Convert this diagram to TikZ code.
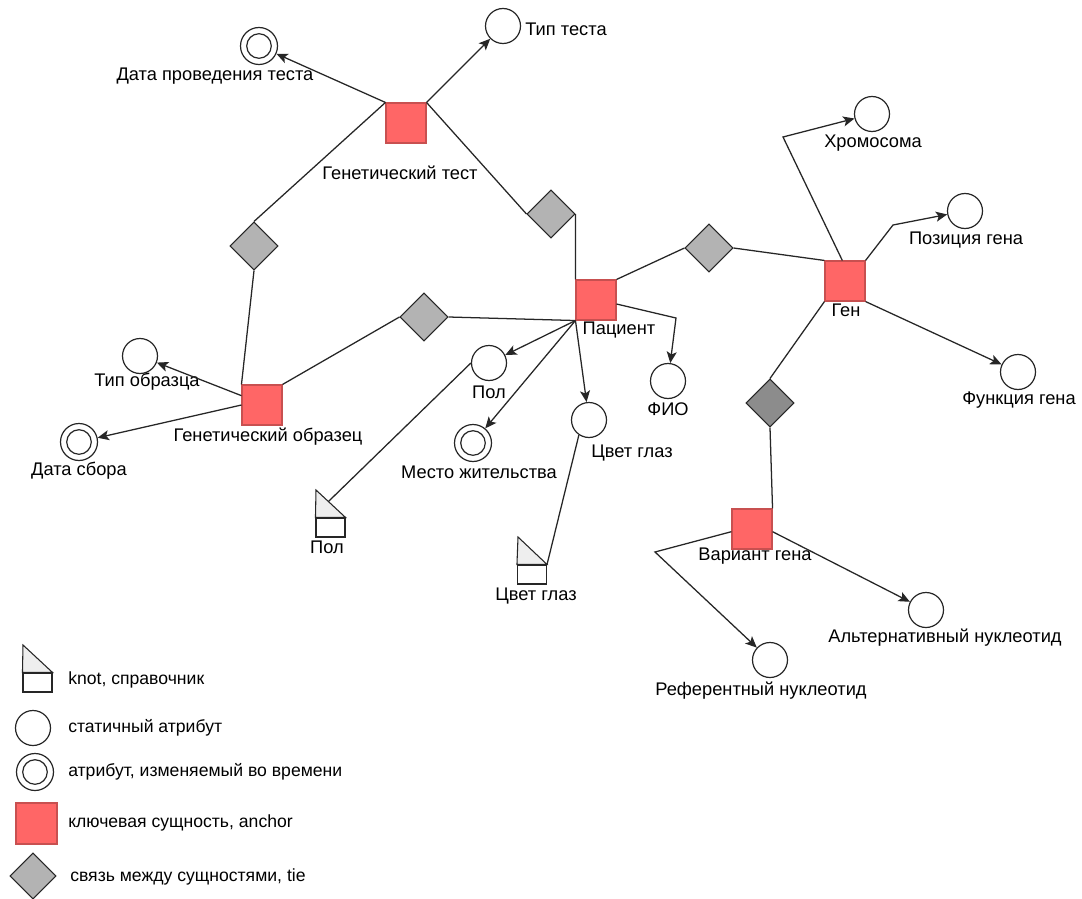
\documentclass[tikz,border=0pt]{standalone}
\usepackage{fontspec}
\setmainfont{Liberation Sans}
\usetikzlibrary{shapes.geometric,arrows.meta,calc}
\definecolor{ancfill}{HTML}{FF6666}
\definecolor{ancdraw}{HTML}{C85050}
\definecolor{tiefill}{HTML}{B3B3B3}
\definecolor{tiedark}{HTML}{8C8C8C}
\definecolor{knotfill}{HTML}{EEEEEE}
\definecolor{ln}{HTML}{262626}
\begin{document}
\begin{tikzpicture}[x=0.75pt,y=-0.75pt,
  every node/.style={font=\fontsize{13.7}{16}\selectfont},
  lbl/.style={inner sep=0pt, text=black},
  leg/.style={lbl, anchor=west, font=\fontsize{13.2}{16}\selectfont},
  anc/.style={rectangle, fill=ancfill, draw=ancdraw, line width=0.8pt, minimum size=30pt, inner sep=0},
  attr/.style={circle, draw=ln, fill=white, line width=0.9pt, minimum size=26.25pt, inner sep=0},
  tattr/.style={circle, draw=ln, fill=white, line width=0.9pt, minimum size=27.75pt, inner sep=0,
    path picture={\draw[ln, line width=0.9pt] (path picture bounding box.center) circle[radius=9.2pt];}},
  tie/.style={diamond, aspect=1, draw=ln, fill=tiefill, line width=0.8pt, minimum size=36pt, inner sep=0},
  knotbox/.style={rectangle, draw=ln, fill=white, line width=0.8pt, minimum width=21.75pt, minimum height=14.25pt, inner sep=0},
  knottri/.style={draw=ln, fill=knotfill, line width=0.8pt, line join=miter},
  conn/.style={draw=ln, line width=0.95pt},
  arr/.style={conn, -{Stealth[length=8.5pt,width=7.5pt,inset=2pt]}}
]
\useasboundingbox (0,0) rectangle (1082,899);
\fill[white] (0,0) rectangle (1082,899);

% ---------- nodes ----------
\node[anc] (gt) at (406,123) {};
\node[tattr] (dpt) at (259,46) {};
\node[attr] (tt) at (503,26) {};
\node[tie] (tieL) at (254,246) {};
\node[tie] (tieR) at (551,214) {};
\node[anc] (pat) at (596,300) {};
\node[tie] (tieM) at (709,248) {};
\node[anc] (gen) at (845,281) {};
\node[attr] (chr) at (872,114) {};
\node[attr] (posg) at (965,211) {};
\node[attr] (func) at (1018,372) {};
\node[tie, fill=tiedark] (tieD) at (770,403) {};
\node[anc] (var) at (752,529) {};
\node[attr] (alt) at (926,610) {};
\node[attr] (ref) at (770,660) {};
\node[tie] (tieP) at (424,317) {};
\node[anc] (obr) at (262,405) {};
\node[attr] (tob) at (140,356) {};
\node[tattr] (dsb) at (79,442) {};
\node[attr] (pol) at (489,363) {};
\node[tattr] (mzh) at (473,443) {};
\node[attr] (cg) at (589,420) {};
\node[attr] (fio) at (668,381) {};
\node[knotbox] (kpol) at (330.5,527.5) {};
\coordinate (kpolt) at (316,490);
\draw[knottri] (kpolt) -- (kpol.north east) -- (kpol.north west) -- cycle;
\node[knotbox] (kcg) at (532,574.5) {};
\coordinate (kcgt) at (518,537);
\draw[knottri] (kcgt) -- (kcg.north east) -- (kcg.north west) -- cycle;

% ---------- labels ----------
\node[lbl] (l_dpt) at (215,76) {Дата проведения теста};
\node[lbl] (l_tt) at (566,29) {Тип теста};
\node[lbl] (l_gt) at (400,173) {Генетический тест};
\node[lbl] (l_pat) at (619,330) {Пациент};
\node[lbl] (l_gen) at (846,310) {Ген};
\node[lbl] (l_chr) at (873,143) {Хромосома};
\node[lbl] (l_posg) at (966,240) {Позиция гена};
\node[lbl] (l_func) at (1019,400) {Функция гена};
\node[lbl] (l_var) at (755,556) {Вариант гена};
\node[lbl] (l_alt) at (945,638) {Альтернативный нуклеотид};
\node[lbl] (l_ref) at (761,691) {Референтный нуклеотид};
\node[lbl] (l_tob) at (147,382) {Тип образца};
\node[lbl] (l_dsb) at (79,471) {Дата сбора};
\node[lbl] (l_obr) at (268,437) {Генетический образец};
\node[lbl] (l_pol) at (489,392) {Пол};
\node[lbl] (l_mzh) at (479,472) {Место жительства};
\node[lbl] (l_cg) at (632,453) {Цвет глаз};
\node[lbl] (l_fio) at (668,409) {ФИО};
\node[lbl] (l_kpol) at (327,547) {Пол};
\node[lbl] (l_kcg) at (536,596) {Цвет глаз};

% ---------- connectors ----------
\draw[arr] (gt.north west) -- (dpt);
\draw[arr] (gt.north east) -- (tt);
\draw[conn] (gt.north west) -- (tieL.north);
\draw[conn] (gt.north east) -- (tieR.west);
\draw[conn] (tieR.east) -- (pat.north west);
\draw[conn] (pat.north east) -- (tieM.west);
\draw[conn] (tieM.east) -- (gen.north west);
\coordinate (bchr) at (783,137);
\draw[arr] ([xshift=-2pt]gen.north) -- (bchr) -- (chr);
\coordinate (bpos) at (893,225);
\draw[arr] (gen.north east) -- (bpos) -- (posg);
\draw[arr] (gen.south east) -- (func);
\draw[conn] (gen.south west) -- (tieD.north);
\draw[conn] (tieD.south) -- (var.north east);
\coordinate (bref) at (655,552);
\draw[arr] ([yshift=-2pt]var.west) -- (bref) -- (ref);
\draw[arr] ([yshift=-2pt]var.east) -- (alt);
\draw[conn] (tieL.south) -- (obr.north west);
\draw[conn] (tieP.west) -- (obr.north east);
\draw[conn] (tieP.east) -- (pat.south west);
\draw[arr] ([yshift=7pt]obr.west) -- (tob);
\draw[arr] (obr.west) -- (dsb);
\draw[arr] (pat.south west) -- (pol);
\draw[arr] (pat.south west) -- (mzh);
\draw[arr] (pat.south west) -- (cg);
\draw[conn] (pol.west) -- ($(kpolt)!0.42!(kpol.north east)$);
\draw[conn] (cg.236) -- (kcg.north east);
\coordinate (bfio) at (676,318);
\draw[arr] ([yshift=-3pt]pat.east) -- (bfio) -- (fio);

% ---------- legend ----------
\node[knotbox] (lknot) at (37.5,682.5) {};
\coordinate (lknott) at (23,645);
\draw[knottri] (lknott) -- (lknot.north east) -- (lknot.north west) -- cycle;
\node[attr] (lattr) at (33,728) {};
\node[tattr] (ltattr) at (35,772) {};
\node[anc, minimum size=30.75pt] (lanc) at (36.5,823.5) {};
\node[tie, minimum size=34.5pt] (ltie) at (33,876) {};
\node[leg] (t_knot) at (68,680) {knot, справочник};
\node[leg] (t_attr) at (68,728) {статичный атрибут};
\node[leg] (t_tattr) at (68,772) {атрибут, изменяемый во времени};
\node[leg] (t_anc) at (68,823) {ключевая сущность, anchor};
\node[leg] (t_tie) at (70,877) {связь между сущностями, tie};
\end{tikzpicture}
\end{document}
